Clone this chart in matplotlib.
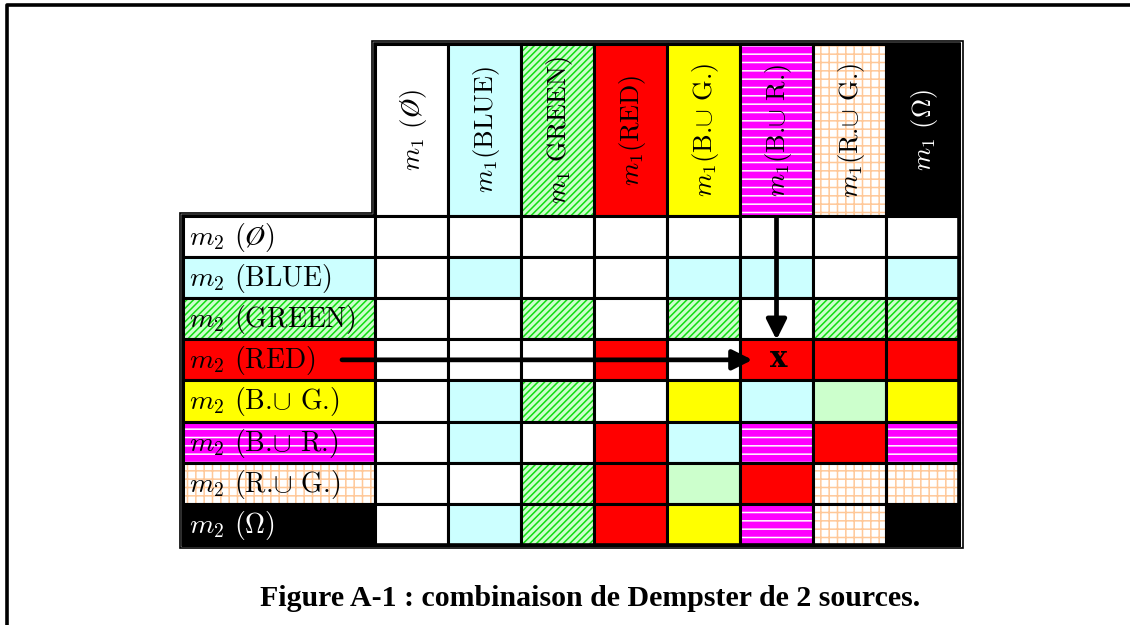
import matplotlib.pyplot as plt
from matplotlib.patches import Rectangle, Polygon

plt.rcParams['mathtext.fontset'] = 'cm'
plt.rcParams['hatch.linewidth'] = 1.1

# m1 focal elements (columns) and m2 focal elements (rows)
col_labels = [r"$m_1$ ($\O$)", r"$m_1$(BLUE)", r"$m_1$ GREEN)", r"$m_1$(RED)",
              r"$m_1$(B.$\cup$ G.)", r"$m_1$(B.$\cup$ R.)", r"$m_1$(R.$\cup$ G.)",
              r"$m_1$ ($\Omega$)"]
row_labels = [r"$m_2$ ($\O$)", r"$m_2$ (BLUE)", r"$m_2$ (GREEN)", r"$m_2$ (RED)",
              r"$m_2$ (B.$\cup$ G.)", r"$m_2$ (B.$\cup$ R.)", r"$m_2$ (R.$\cup$ G.)",
              r"$m_2$ ($\Omega$)"]
col_codes = ['E', 'B', 'G', 'R', 'Y', 'M', 'P', 'K']
row_codes = ['E', 'B', 'G', 'R', 'Y', 'M', 'P', 'K']

# combined mass: row = m2 element, column = m1 element
cells = [
    "EEEEEEEE",
    "EBEEBBEB",
    "EEGEGEGG",
    "EEERERRR",
    "EBGEYBLY",
    "EBERBMRM",
    "EEGRLRPP",
    "EBGRYMPK",
]
arrow_row, arrow_col = 3, 5
caption = "Figure A-1 : combinaison de Dempster de 2 sources."

styles = {
    'E': ('white', None, None),
    'B': ('#ccffff', None, None),
    'G': ('#ccffcc', '/////', '#11dd11'),
    'R': ('#ff0000', None, None),
    'Y': ('#ffff00', None, None),
    'M': ('#ff00ff', '--', 'white'),
    'P': ('white', '++', '#ffc898'),
    'L': ('#ccffcc', None, None),
    'K': ('black', None, None),
}

fig = plt.figure(figsize=(11.3, 6.25), dpi=100)
ax = fig.add_axes([0, 0, 1, 1])
ax.set_xlim(0, 1130)
ax.set_ylim(625, 0)
ax.axis('off')

x0, cw = 375, 73.0
y0, rh = 216, 41.1
hy0, hy1 = 44, 216
lx0 = 183
lw = 2.2
tfont = 'cmr10'


def cell(x, y, w, h, code):
    fc, hatch, hc = styles[code]
    ax.add_patch(Rectangle((x, y), w, h, facecolor=fc, edgecolor='none', lw=0))
    if hatch:
        ax.add_patch(Rectangle((x, y), w, h, facecolor='none', edgecolor=hc,
                               lw=0, hatch=hatch))
    ax.add_patch(Rectangle((x, y), w, h, facecolor='none', edgecolor='black', lw=lw))


# header
for j, lab in enumerate(col_labels):
    x = x0 + j * cw
    cell(x, hy0, cw, hy1 - hy0, col_codes[j])
    ax.text(x + cw / 2 + 2, (hy0 + hy1) / 2, lab, rotation=90, ha='center', va='center',
            fontsize=19, family=tfont,
            color='white' if col_codes[j] == 'K' else 'black')

# row labels
for i, lab in enumerate(row_labels):
    y = y0 + i * rh
    cell(lx0, y, x0 - lx0, rh, row_codes[i])
    ax.text(lx0 + 6, y + rh / 2 + 1, lab, ha='left', va='center', fontsize=20,
            family=tfont, color='white' if row_codes[i] == 'K' else 'black')

# body
for i, row in enumerate(cells):
    for j, code in enumerate(row):
        cell(x0 + j * cw, y0 + i * rh, cw, rh, code)

# double outer border of the table
xr = x0 + len(col_labels) * cw
yb = y0 + len(row_labels) * rh
outline = [(x0, hy0), (xr, hy0), (xr, yb), (lx0, yb), (lx0, y0), (x0, y0)]
ax.add_patch(Polygon(outline, closed=True, fill=False, edgecolor='black', lw=2.6))
d = 3.5
outer = [(x0 - d, hy0 - d), (xr + d, hy0 - d), (xr + d, yb + d), (lx0 - d, yb + d),
         (lx0 - d, y0 - d), (x0 - d, y0 - d)]
ax.add_patch(Polygon(outer, closed=True, fill=False, edgecolor='black', lw=1.2))

# arrows pointing to the combined cell
tx = x0 + (arrow_col + 0.5) * cw
ty = y0 + (arrow_row + 0.5) * rh
ax.annotate('', xy=(tx - 24, ty), xytext=(342, ty),
            arrowprops=dict(arrowstyle='-|>', lw=3.4, color='black', mutation_scale=30,
                            shrinkA=0, shrinkB=0))
ax.annotate('', xy=(tx, ty - 20), xytext=(tx, y0 + 2),
            arrowprops=dict(arrowstyle='-|>', lw=3.4, color='black', mutation_scale=30,
                            shrinkA=0, shrinkB=0))
ax.text(tx + 2, ty - 1, 'x', ha='center', va='center', fontsize=21, fontweight='bold',
        family='DejaVu Serif')

# caption and page frame
ax.text(590, 598, caption, ha='center', va='center', fontsize=21.5, fontweight='bold',
        family='Liberation Serif')
ax.plot([7, 7, 1130], [625, 5, 5], color='black', lw=2.6, solid_capstyle='butt')

fig.savefig('out.png', dpi=100)
